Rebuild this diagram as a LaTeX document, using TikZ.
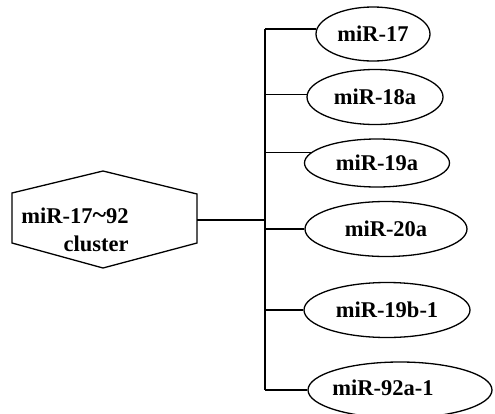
\documentclass[tikz,border=0pt]{standalone}
\usepackage{fontspec}
\setmainfont{Liberation Serif}
\usetikzlibrary{shapes.geometric}
\begin{document}
\begin{tikzpicture}[x=1pt,y=-1pt,line width=1.3pt,
  mirbox/.style={draw,ellipse,inner sep=0pt,font=\fontsize{22.5}{25}\selectfont\bfseries},
  labeltext/.style={inner sep=0pt,font=\fontsize{22.5}{25}\selectfont\bfseries},
  wire/.style={draw,line width=1.4pt}]
\useasboundingbox (0,0) rectangle (495,413);
% hexagon cluster
\draw (12,193) -- (103,171) -- (197,194) -- (197,243) -- (103,268) -- (12,243) -- cycle;
\node[labeltext] (t1) at (75,216) {miR-17{\fontsize{26}{26}\selectfont\char`\~}92};
\node[labeltext] (t2) at (96,244) {cluster};
\coordinate (hexr) at (197,220);
% bus
\coordinate (bustop) at (265,29);
\coordinate (busbot) at (265,390);
\coordinate (busmid) at (265,220);
% ellipses
\node[mirbox,minimum width=114pt,minimum height=54pt] (e17)  at (373,34)  {miR-17};
\node[mirbox,minimum width=136pt,minimum height=55pt] (e18)  at (375,97)  {miR-18a};
\node[mirbox,minimum width=145pt,minimum height=48pt] (e19)  at (377,163) {miR-19a};
\node[mirbox,minimum width=162pt,minimum height=55pt] (e20)  at (386,229) {miR-20a};
\node[mirbox,minimum width=166pt,minimum height=55pt] (e19b) at (387,310) {miR-19b-1};
\node[mirbox,minimum width=184pt,minimum height=56pt] (e92)  at (400,390) {};
\node[labeltext] (t92) at (383,388) {miR-92a-1};
% connectors
\draw[wire] (hexr) -- (busmid);
\draw[wire] (bustop) -- (busbot);
\draw[wire] (e17.175 -| bustop) -- (e17.175);
\draw[wire] (e18.178 -| bustop) -- (e18.178);
\draw[wire] (e19.171 -| bustop) -- (e19.171);
\draw[wire] (e20.west -| bustop) -- (e20.west);
\draw[wire] (e19b.west -| bustop) -- (e19b.west);
\draw[wire] (e92.west -| bustop) -- (e92.west);
\end{tikzpicture}
\end{document}
